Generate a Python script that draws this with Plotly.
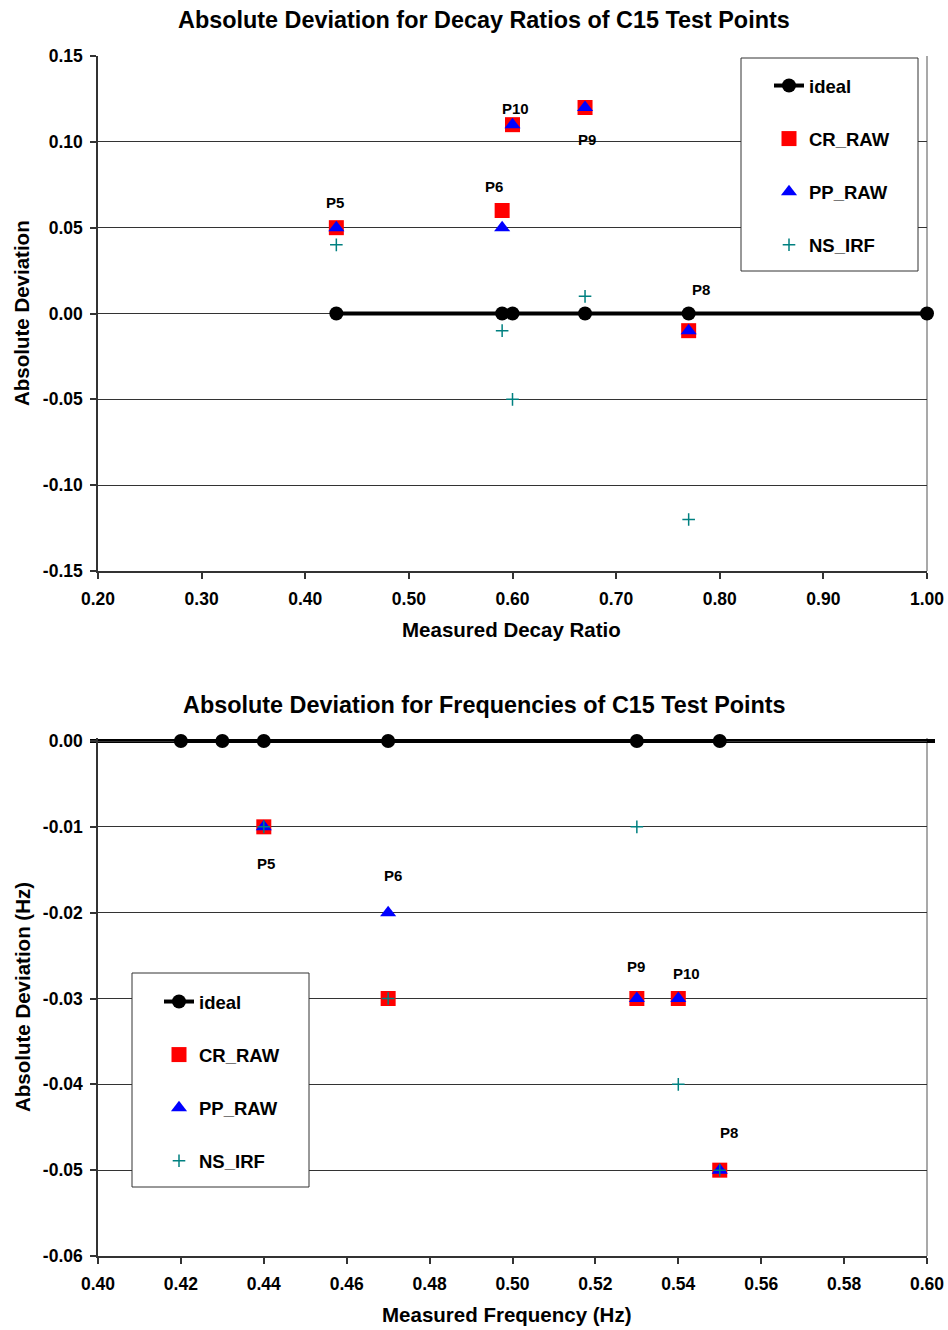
import plotly.graph_objects as go

# ---------------- Decay ratio test points (upper chart) ----------------
dr_points = ["P5", "P6", "P10", "P9", "P8"]
dr_measured = [0.43, 0.59, 0.60, 0.67, 0.77]
dr_cr_raw = [0.05, 0.06, 0.11, 0.12, -0.01]
dr_pp_raw = [0.05, 0.05, 0.11, 0.12, -0.01]
dr_ns_irf = [0.04, -0.01, -0.05, 0.01, -0.12]
dr_ideal_x = [0.43, 0.59, 0.60, 0.67, 0.77, 1.00]
dr_ideal_y = [0.00, 0.00, 0.00, 0.00, 0.00, 0.00]
dr_xticks = [0.20, 0.30, 0.40, 0.50, 0.60, 0.70, 0.80, 0.90, 1.00]
dr_yticks = [-0.15, -0.10, -0.05, 0.00, 0.05, 0.10, 0.15]

# ---------------- Frequency test points (lower chart) ----------------
fq_points = ["P5", "P6", "P9", "P10", "P8"]
fq_measured = [0.44, 0.47, 0.53, 0.54, 0.55]
fq_cr_raw = [-0.01, -0.03, -0.03, -0.03, -0.05]
fq_pp_raw = [-0.01, -0.02, -0.03, -0.03, -0.05]
fq_ns_irf = [-0.01, -0.03, -0.01, -0.04, -0.05]
fq_ideal_x = [0.42, 0.43, 0.44, 0.47, 0.53, 0.55]
fq_ideal_y = [0.00, 0.00, 0.00, 0.00, 0.00, 0.00]
fq_xticks = [0.40, 0.42, 0.44, 0.46, 0.48, 0.50, 0.52, 0.54, 0.56, 0.58, 0.60]
fq_yticks = [-0.06, -0.05, -0.04, -0.03, -0.02, -0.01, 0.00]

# ---------------- styling ----------------
W, H = 948, 1330
FONT = "Liberation Sans, Arial, sans-serif"
RED, BLUE, TEAL = "#FF0000", "#0000FF", "#008080"
GRID = "#333333"

# plot-area edges in page pixels: left, right, top, bottom
PLOT_L, PLOT_R = 98, 927
TOP_T, TOP_B = 56, 571
BOT_T, BOT_B = 738, 1256

# pixel offsets (dx, dy) of the point-name labels from their marker
dr_label_offsets = [(-1, 25), (-8, 24), (3, 16), (2, -32), (12, 41)]
fq_label_offsets = [(2, -37), (5, 37), (-1, 32), (8, 25), (9, 38)]


def px_x(p):
    return p / W


def px_y(p):
    return 1 - p / H


fig = go.Figure()


def add_series(xa, ya, legend, ix, iy, meas, cr, pp, ns):
    # ideal reference: thick black line with circular markers
    fig.add_trace(go.Scatter(
        x=ix, y=iy, name="ideal", mode="lines+markers",
        line=dict(color="black", width=4),
        marker=dict(symbol="circle", size=14, color="black"),
        cliponaxis=False, xaxis=xa, yaxis=ya, legend=legend,
        legendgroup=legend + "ideal"))
    fig.add_trace(go.Scatter(
        x=meas, y=cr, name="CR_RAW", mode="markers",
        marker=dict(symbol="square", size=15, color=RED),
        cliponaxis=False, xaxis=xa, yaxis=ya, legend=legend,
        legendgroup=legend + "cr"))
    fig.add_trace(go.Scatter(
        x=meas, y=pp, name="PP_RAW", mode="markers",
        marker=dict(symbol="triangle-up", size=14, color=BLUE),
        cliponaxis=False, xaxis=xa, yaxis=ya, legend=legend,
        legendgroup=legend + "pp"))
    fig.add_trace(go.Scatter(
        x=meas, y=ns, name="NS_IRF", mode="markers",
        marker=dict(symbol="cross-thin", size=9, color=TEAL,
                    line=dict(color=TEAL, width=1.5)),
        cliponaxis=False, xaxis=xa, yaxis=ya, legend=legend,
        legendgroup=legend + "ns"))


add_series("x", "y", "legend", dr_ideal_x, dr_ideal_y,
           dr_measured, dr_cr_raw, dr_pp_raw, dr_ns_irf)
add_series("x2", "y2", "legend2", fq_ideal_x, fq_ideal_y,
           fq_measured, fq_cr_raw, fq_pp_raw, fq_ns_irf)

annotations = []


def label_points(xref, yref, names, meas, cr, pp, offsets):
    for name, x, a, b, (dx, dy) in zip(names, meas, cr, pp, offsets):
        annotations.append(dict(
            x=x, y=max(a, b), xref=xref, yref=yref, text=name,
            showarrow=False, xshift=dx, yshift=dy,
            font=dict(family=FONT, size=15, color="black", weight="bold")))


label_points("x", "y", dr_points, dr_measured, dr_cr_raw, dr_pp_raw, dr_label_offsets)
label_points("x2", "y2", fq_points, fq_measured, fq_cr_raw, fq_pp_raw, fq_label_offsets)


def text(t, x, y, size, angle=0):
    annotations.append(dict(
        x=px_x(x), y=px_y(y), xref="paper", yref="paper", text=t,
        showarrow=False, textangle=angle, xanchor="center", yanchor="middle",
        font=dict(family=FONT, size=size, color="black", weight="bold")))


text("Absolute Deviation for Decay Ratios of C15 Test Points", 484, 20, 23.4)
text("Measured Decay Ratio", 512, 630, 20.5)
text("Absolute Deviation", 22, 313, 20.5, -90)
text("Absolute Deviation for Frequencies of C15 Test Points", 484, 705, 23.4)
text("Measured Frequency (Hz)", 506, 1314, 20.5)
text("Absolute Deviation (Hz)", 22, 997, 20.5, -90)

tickfont = dict(family=FONT, size=17.5, color="black", weight="bold")
axis_common = dict(
    showline=True, linecolor=GRID, linewidth=1.5, ticks="outside",
    ticklen=6, tickcolor=GRID, tickwidth=1.5, tickfont=tickfont,
    zeroline=False, automargin=False, fixedrange=True)


def ticktext(vals):
    return [f"{v:.2f}" for v in vals]


xdom = [px_x(PLOT_L), px_x(PLOT_R)]
top_dom = [px_y(TOP_B), px_y(TOP_T)]
bot_dom = [px_y(BOT_B), px_y(BOT_T)]
fq_xrange = [fq_xticks[0], fq_xticks[-1]]
# headroom above 0.00 in the lower chart so the ideal line is not cut
fq_ytop = (741 - BOT_T) * (fq_yticks[-1] - fq_yticks[0]) / (BOT_B - 741)

shapes = []
# right-hand frame of each plot area
for xr, yr in (("x domain", "y domain"), ("x2 domain", "y2 domain")):
    shapes.append(dict(type="line", xref=xr, yref=yr, x0=1, x1=1, y0=0, y1=1,
                       line=dict(color="#8c8c8c", width=1.5), layer="below"))

# lower chart: the ideal line runs across the whole frequency plot,
# spilling a little past both edges of the plot area
shapes.append(dict(type="line", xref="paper", yref="y2",
                   x0=px_x(PLOT_L - 8), x1=px_x(PLOT_R + 8),
                   y0=fq_ideal_y[0], y1=fq_ideal_y[-1],
                   line=dict(color="black", width=4), layer="below"))


def legend_box(x0, x1, y0, y1):
    # white framed box behind a legend, given in page pixels
    shapes.append(dict(type="rect", xref="paper", yref="paper",
                       x0=px_x(x0), x1=px_x(x1), y0=px_y(y1), y1=px_y(y0),
                       fillcolor="white", line=dict(color=GRID, width=1),
                       layer="above"))


legend_box(741, 918, 58, 271)
legend_box(132, 309, 973, 1187)

legend_common = dict(
    font=dict(family=FONT, size=18.5, color="black", weight="bold"),
    bgcolor="rgba(0,0,0,0)", borderwidth=0, traceorder="grouped",
    tracegroupgap=26, xanchor="left", yanchor="top")

fig.update_layout(
    width=W, height=H, template="none",
    margin=dict(l=0, r=0, t=0, b=0),
    paper_bgcolor="white", plot_bgcolor="rgba(0,0,0,0)",
    showlegend=True,
    xaxis=dict(domain=xdom, range=[dr_xticks[0], dr_xticks[-1]],
               tickvals=dr_xticks, ticktext=ticktext(dr_xticks),
               showgrid=False, anchor="y", ticklabelstandoff=5, **axis_common),
    yaxis=dict(domain=top_dom, range=[dr_yticks[0], dr_yticks[-1]],
               tickvals=dr_yticks, ticktext=ticktext(dr_yticks),
               showgrid=True, gridcolor=GRID, gridwidth=1, anchor="x",
               ticklabelstandoff=4, **axis_common),
    xaxis2=dict(domain=xdom, range=fq_xrange,
                tickvals=fq_xticks, ticktext=ticktext(fq_xticks),
                showgrid=False, anchor="y2", ticklabelstandoff=5, **axis_common),
    yaxis2=dict(domain=bot_dom, range=[fq_yticks[0], fq_yticks[-1] + fq_ytop],
                tickvals=fq_yticks, ticktext=ticktext(fq_yticks),
                showgrid=True, gridcolor=GRID, gridwidth=1, anchor="x2",
                ticklabelstandoff=4, **axis_common),
    legend=dict(x=px_x(769), y=px_y(67), **legend_common),
    legend2=dict(x=px_x(159), y=px_y(983), **legend_common),
    annotations=annotations,
    shapes=shapes,
)

fig.write_html("out.html")
